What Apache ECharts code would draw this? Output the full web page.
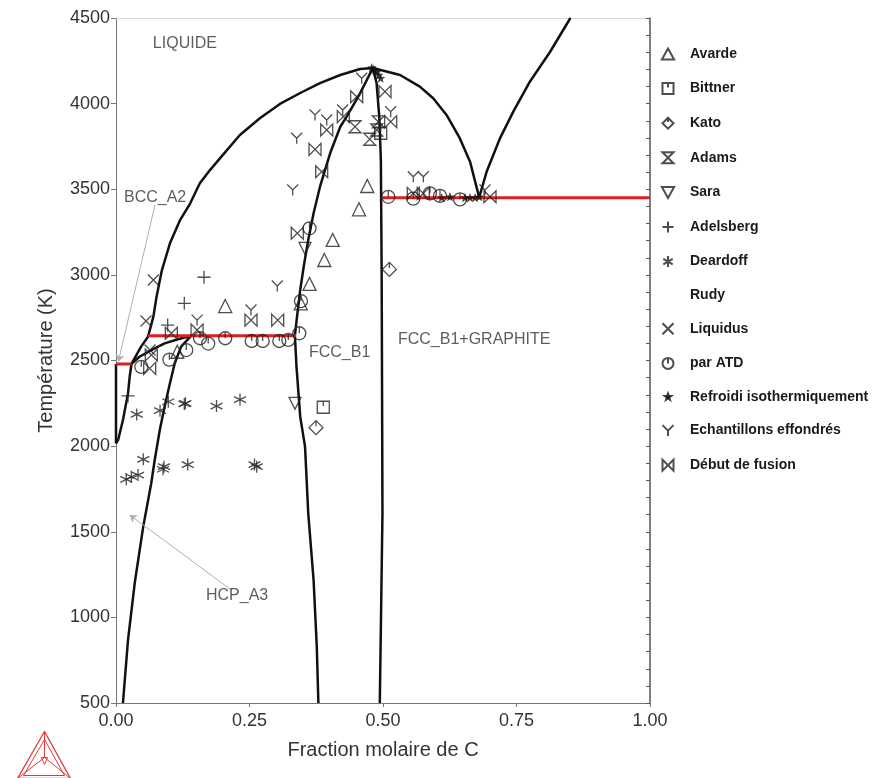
<!DOCTYPE html>
<html>
<head>
<meta charset="utf-8">
<script src="https://cdn.jsdelivr.net/npm/echarts@6/dist/echarts.min.js"></script>
<style>
  html, body { margin: 0; padding: 0; background: #fff; }
  #chart { width: 885px; height: 778px; }
</style>
</head>
<body>
<div id="chart"></div>
<script>
const FONT = '"Liberation Sans", Arial, sans-serif';

// ticks
const xTickLabels = ["0.00", "0.25", "0.50", "0.75", "1.00"];
const yTickValues = [500, 1000, 1500, 2000, 2500, 3000, 3500, 4000, 4500];

// phase boundaries (x = fraction molaire de C, y = T in K)
const liquidusLeft = [[0.029, 2480], [0.047, 2581], [0.060, 2639], [0.070, 2756], [0.076, 2873], [0.086, 3028], [0.101, 3184], [0.120, 3320], [0.139, 3418], [0.157, 3535], [0.176, 3612], [0.195, 3682], [0.232, 3817], [0.270, 3916], [0.307, 3998], [0.345, 4062], [0.382, 4120], [0.420, 4167], [0.457, 4202], [0.481, 4208]];
const liquidusRight = [[0.481, 4208], [0.532, 4167], [0.569, 4099], [0.594, 4031], [0.619, 3934], [0.644, 3797], [0.663, 3661], [0.679, 3466], [0.680, 3451]];
const graphiteLiquidus = [[0.680, 3451], [0.694, 3602], [0.719, 3797], [0.744, 3953], [0.775, 4128], [0.813, 4303], [0.851, 4500]];
const fccLeft = [[0.481, 4208], [0.457, 4060], [0.432, 3924], [0.420, 3865], [0.401, 3710], [0.382, 3515], [0.370, 3360], [0.360, 3204], [0.352, 3058], [0.345, 2912], [0.339, 2756], [0.335, 2645], [0.338, 2464], [0.345, 2172], [0.354, 1997], [0.360, 1608], [0.370, 1218], [0.376, 829], [0.379, 500]];
const fccRight = [[0.481, 4208], [0.488, 4119], [0.493, 3924], [0.496, 3671], [0.4975, 3000], [0.499, 1610], [0.4965, 1050], [0.494, 500]];
const pureHf = [[0, 2016], [0, 2480]];
const hcpBcc = [[0, 2016], [0.004, 2036], [0.013, 2153], [0.0225, 2308], [0.0256, 2405], [0.029, 2480]];
const hcpLiq = [[0.029, 2480], [0.044, 2522], [0.066, 2561], [0.091, 2600], [0.116, 2624], [0.141, 2645]];
const hcpFcc = [[0.141, 2645], [0.122, 2581], [0.110, 2484], [0.101, 2367], [0.091, 2230], [0.082, 2094], [0.0725, 1919], [0.066, 1783], [0.051, 1530], [0.035, 1199], [0.0225, 868], [0.013, 500]];

// invariant lines (red)
const peritecticHf = [[0, 2480], [0.029, 2480]];
const peritecticHcp = [[0.060, 2645], [0.337, 2645]];
const eutectic = [[0.497, 3451], [1.0, 3451]];

// experimental points
const avarde = [[0.2045, 2818], [0.1148, 2551], [0.4058, 3204], [0.3901, 3087], [0.3624, 2947], [0.3459, 2834], [0.4706, 3519], [0.4551, 3383]];
const bittner = [[0.3882, 2227], [0.4957, 3827]];
const kato = [[0.3745, 2108], [0.512, 3032]];
const adams = [[0.4476, 3865], [0.4751, 3792], [0.4912, 3894], [0.4882, 3846]];
const sara = [[0.3539, 3155], [0.3352, 2250]];
const adelsberg = [[0.1648, 2986], [0.1279, 2834], [0.0968, 2707], [0.0225, 2293]];
const deardoff = [[0.0388, 2185], [0.0824, 2207], [0.0979, 2259], [0.1279, 2246], [0.1300, 2250], [0.1882, 2234], [0.2322, 2272], [0.0511, 1923], [0.0193, 1806], [0.0287, 1821], [0.0412, 1831], [0.0899, 1880], [0.0880, 1865], [0.1343, 1892], [0.2594, 1892], [0.2635, 1880]];
const rudy = [];
const liquidusPts = [[0.0699, 2970], [0.0562, 2731], [0.0637, 2561]];
const parATD = [[0.2045, 2630], [0.2541, 2614], [0.2747, 2614], [0.3058, 2614], [0.3227, 2620], [0.1727, 2599], [0.1573, 2630], [0.1316, 2561], [0.1000, 2505], [0.0474, 2463], [0.3624, 3272], [0.3464, 2847], [0.3433, 2659], [0.5099, 3456], [0.5567, 3445], [0.5880, 3476], [0.6067, 3461], [0.6442, 3441]];
const refroidi = [[0.4790, 4210], [0.4818, 4200], [0.4851, 4195], [0.4882, 4186], [0.4920, 4167], [0.4957, 4148], [0.6099, 3451], [0.6254, 3456], [0.6536, 3451], [0.6629, 3451], [0.6723, 3451], [0.6803, 3456]];
const effondres = [[0.2528, 2795], [0.3020, 2935], [0.3309, 3496], [0.1518, 2736], [0.3727, 3934], [0.3946, 3904], [0.3384, 3798], [0.4245, 3963], [0.4601, 4148], [0.5144, 3953], [0.5567, 3573], [0.5755, 3573], [0.6910, 3496]];
const debutFusion = [[0.2528, 2736], [0.3028, 2736], [0.3395, 3243], [0.3727, 3733], [0.3852, 3602], [0.3946, 3846], [0.4507, 4040], [0.4257, 3924], [0.5037, 4070], [0.5144, 3894], [0.1036, 2659], [0.1518, 2678], [0.0661, 2532], [0.0631, 2454], [0.5567, 3476], [0.5755, 3476], [0.7004, 3456]];

// phase labels
const phaseLabels = [
  ["LIQUIDE", 0.069, 4348],
  ["BCC_A2", 0.015, 3449],
  ["FCC_B1", 0.3614, 2544],
  ["FCC_B1+GRAPHITE", 0.528, 2620],
  ["HCP_A3", 0.1685, 1125],
];
const bccPointer = [[0.073, 3408], [0.0043, 2493]];
const hcpPointer = [[0.2159, 1160], [0.0257, 1598]];

const STAR = "M5,0L6.18,3.38L9.76,3.45L6.9,5.62L7.94,9.05L5,7L2.06,9.05L3.1,5.62L0.24,3.45L3.82,3.38Z";
const SYM = {
  triUp: "path://M5,0L10,9L0,9Z",
  triDown: "path://M0,1L10,1L5,10Z",
  bittner: "path://M0,0L10,0L10,10L0,10ZM5,0L5,4",
  kato: "path://M5,0L10,5L5,10L0,5ZM5,0L5,4",
  adams: "path://M0,0L10,0L0,10L10,10Z",
  plus: "path://M5,0L5,10M0,5L10,5",
  aster: "path://M5,0L5,10M0.7,2.5L9.3,7.5M0.7,7.5L9.3,2.5",
  cross: "path://M1,1L9,9M9,1L1,9",
  atd: "path://M0,5A5,5,0,1,1,10,5A5,5,0,1,1,0,5ZM5,0L5,5",
  star: "path://" + STAR,
  starSmall: "path://M-3,-3M13,13" + STAR,
  yy: "path://M0,0L5,5L10,0M5,5L5,10",
  bowtie: "path://M0,0L10,10L10,0L0,10Z",
};

function pts(name, data, symbol, size, filled) {
  return {
    name, type: "scatter", data, symbol, symbolSize: size, z: 5,
    itemStyle: filled
      ? { color: "#111", borderColor: "#111", borderWidth: 0.5 }
      : { color: "none", borderColor: "#222", borderWidth: 1.3 },
  };
}

function curve(data, color, width) {
  return {
    type: "line", data, symbol: "none", silent: true, z: 3,
    lineStyle: { color, width }, animation: false,
  };
}

function pointer(seg) {
  return {
    type: "line", data: [], silent: true, z: 2,
    markLine: {
      silent: true, symbol: ["none", "arrow"], symbolSize: 7, animation: false,
      lineStyle: { color: "#b0b0b0", width: 1, type: "solid" },
      label: { show: false },
      data: [[{ coord: seg[0] }, { coord: seg[1] }]],
    },
  };
}

const legendNames = ["Avarde", "Bittner", "Kato", "Adams", "Sara", "Adelsberg", "Deardoff", "Rudy", "Liquidus", "par ATD", "Refroidi isothermiquement", "Echantillons effondrés", "Début de fusion"];

function legendItem(n) {
  if (n === "Rudy") return { name: n, icon: "none" };
  if (n === "Refroidi isothermiquement") return { name: n, icon: SYM.starSmall };
  return n;
}

const chart = echarts.init(document.getElementById("chart"), null, { renderer: "canvas" });

chart.setOption({
  animation: false,
  backgroundColor: "#fff",
  textStyle: { fontFamily: FONT },
  grid: { left: 116, right: 235, top: 18, bottom: 75 },
  legend: {
    orient: "vertical", left: 646, top: 41,
    itemWidth: 34, itemHeight: 11, itemGap: 18.6,
    symbolKeepAspect: true,
    textStyle: { fontFamily: FONT, fontSize: 14, fontWeight: "bold", color: "#1a1a1a" },
    data: legendNames.map(legendItem),
    selectedMode: false,
  },
  xAxis: [{
    type: "value", min: 0, max: 1, interval: 0.25,
    name: "Fraction molaire de C", nameLocation: "middle", nameGap: 37,
    nameTextStyle: { fontSize: 20, color: "#333", fontFamily: FONT },
    axisLine: { show: true, onZero: false, lineStyle: { color: "#777", width: 1 } },
    axisTick: { show: true, length: 4, lineStyle: { color: "#777" } },
    axisLabel: { fontSize: 18, color: "#333", margin: 9, formatter: (v) => xTickLabels[Math.round(v * 4)] },
    splitLine: { show: false },
  }, {
    type: "value", min: 0, max: 1, position: "top",
    axisLine: { show: true, onZero: false, lineStyle: { color: "#d8d8d8", width: 1 } },
    axisTick: { show: false }, axisLabel: { show: false }, splitLine: { show: false },
  }],
  yAxis: [{
    type: "value", min: 500, max: 4500, interval: 500,
    name: "Température (K)", nameLocation: "middle", nameGap: 60,
    nameTextStyle: { fontSize: 20, color: "#333", fontFamily: FONT },
    axisLine: { show: true, onZero: false, lineStyle: { color: "#777", width: 1 } },
    axisTick: { show: true, length: 5, lineStyle: { color: "#777" } },
    axisLabel: { fontSize: 18, color: "#333", margin: 6, formatter: (v) => (yTickValues.includes(v) ? String(v) : "") },
    splitLine: { show: false },
  }, {
    type: "value", min: 500, max: 4500, interval: 100, position: "right",
    axisLine: { show: true, onZero: false, lineStyle: { color: "#555", width: 1.5 } },
    axisTick: { show: true, inside: true, length: 4, lineStyle: { color: "#555" } },
    axisLabel: { show: false }, splitLine: { show: false },
  }],
  series: [
    curve(liquidusLeft, "#111", 2.5),
    curve(liquidusRight, "#111", 2.5),
    curve(graphiteLiquidus, "#111", 2.5),
    curve(fccLeft, "#111", 2.5),
    curve(fccRight, "#111", 2.5),
    curve(pureHf, "#111", 2.5),
    curve(hcpBcc, "#111", 2.5),
    curve(hcpLiq, "#111", 2.5),
    curve(hcpFcc, "#111", 2.5),
    curve(peritecticHf, "#e01e1e", 3),
    curve(peritecticHcp, "#e01e1e", 3),
    curve(eutectic, "#e01e1e", 3),
    pointer(bccPointer),
    pointer(hcpPointer),
    pts("Avarde", avarde, SYM.triUp, 13),
    pts("Bittner", bittner, SYM.bittner, 12),
    pts("Kato", kato, SYM.kato, 14),
    pts("Adams", adams, SYM.adams, 12),
    pts("Sara", sara, SYM.triDown, 12),
    pts("Adelsberg", adelsberg, SYM.plus, 13),
    pts("Deardoff", deardoff, SYM.aster, 12),
    pts("Rudy", rudy, "none", 10),
    pts("Liquidus", liquidusPts, SYM.cross, 11),
    pts("par ATD", parATD, SYM.atd, 13),
    pts("Refroidi isothermiquement", refroidi, SYM.star, 8, true),
    pts("Echantillons effondrés", effondres, SYM.yy, 11),
    pts("Début de fusion", debutFusion, SYM.bowtie, 12),
    {
      type: "scatter", silent: true, symbolSize: 0, z: 6,
      data: phaseLabels.map((p) => ({ value: [p[1], p[2]], name: p[0] })),
      label: {
        show: true, position: "right", distance: 0,
        formatter: (p) => p.name,
        fontSize: 16, color: "#333", fontFamily: FONT,
      },
    },
  ],
  graphic: [{
    type: "group", left: 15, top: 729,
    children: [
      { type: "polygon", shape: { points: [[27, 0], [53, 47], [0, 47]] }, style: { fill: "none", stroke: "#e23a3a", lineWidth: 1.3 } },
      { type: "polygon", shape: { points: [[27, 8], [47, 44], [6, 44]] }, style: { fill: "none", stroke: "#e23a3a", lineWidth: 1 } },
      { type: "polyline", shape: { points: [[27, 0], [27, 26], [0, 47]] }, style: { fill: "none", stroke: "#e23a3a", lineWidth: 1 } },
      { type: "polyline", shape: { points: [[27, 26], [53, 47]] }, style: { fill: "none", stroke: "#e23a3a", lineWidth: 1 } },
      { type: "polygon", shape: { points: [[24, 26], [30, 26], [27, 33]] }, style: { fill: "none", stroke: "#e23a3a", lineWidth: 1 } },
    ],
  }],
});

window.addEventListener("resize", () => chart.resize());
</script>
</body>
</html>
